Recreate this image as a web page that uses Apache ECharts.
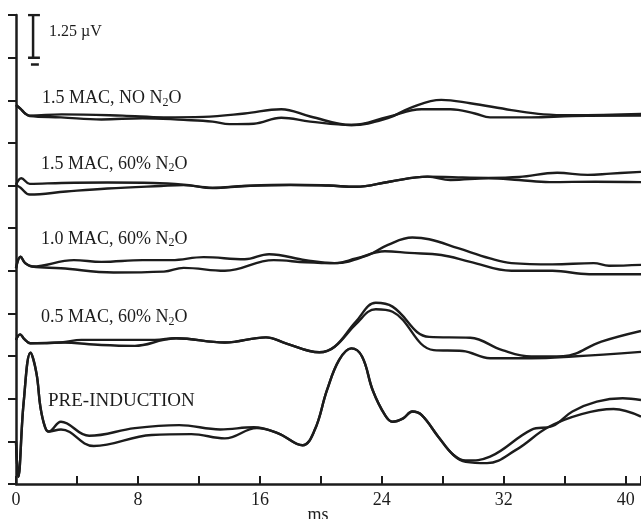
<!DOCTYPE html>
<html>
<head>
<meta charset="utf-8">
<script src="https://cdn.jsdelivr.net/npm/echarts@6/dist/echarts.min.js"></script>
<style>
html, body { margin: 0; padding: 0; background: #fff; }
#chart { width: 641px; height: 519px; }
</style>
</head>
<body>
<div id="chart"></div>
<script>
// each trace is [ms, offset], offset in scale units (1 unit = 1.25 µV)
var noN2O_a = [[0,8.89],[0.3,8.80],[0.6,8.69],[0.9,8.64],[3,8.67],[7,8.64],[9.7,8.60],[12.3,8.61],[15,8.69],[17.4,8.79],[19.3,8.62],[22,8.42],[24.4,8.58],[25.8,8.81],[27.9,9.01],[29.8,8.93],[32.5,8.77],[34.6,8.67],[36.5,8.65],[41,8.68]];
var noN2O_b = [[0,8.89],[0.3,8.80],[0.6,8.69],[0.9,8.63],[2.95,8.60],[5.6,8.55],[8.3,8.58],[11,8.54],[12.9,8.50],[14,8.44],[15.6,8.45],[17.4,8.59],[19.3,8.50],[22,8.42],[24.4,8.61],[26.6,8.79],[28.5,8.79],[30.1,8.69],[31.1,8.60],[33.8,8.60],[36.5,8.63],[41,8.64]];

var mac15_a = [[0,7.02],[0.35,7.17],[0.9,7.04],[3,7.06],[6,7.07],[9,7.06],[11,7.02],[12.9,6.95],[15,6.99],[18,7.01],[20.5,7.0],[22.3,6.97],[24.5,7.09],[27,7.21],[29,7.19],[31,7.18],[33,7.2],[35.5,7.3],[37.5,7.25],[39,7.28],[41,7.32]];
var mac15_b = [[0,7.02],[0.3,6.95],[0.9,6.79],[3.3,6.86],[6,6.93],[9.5,6.99],[11,7.01],[12.9,6.94],[15,6.99],[18,7.02],[20.5,7.0],[22.3,6.97],[24.5,7.09],[27,7.21],[28.5,7.13],[31,7.17],[33,7.13],[35,7.08],[38,7.09],[41,7.08]];

var mac10_a = [[0,5.06],[0.3,5.33],[0.6,5.18],[1.07,5.10],[3.8,5.25],[5.6,5.21],[8.3,5.25],[10.2,5.25],[12.3,5.32],[15,5.27],[16.6,5.39],[19,5.25],[20.9,5.18],[23.1,5.37],[24.4,5.61],[26,5.78],[27.1,5.74],[29,5.53],[31.1,5.29],[32.5,5.18],[35.2,5.15],[37.9,5.18],[38.9,5.12],[41,5.14]];
var mac10_b = [[0,5.06],[0.3,5.33],[0.6,5.18],[1.07,5.10],[2.95,5.06],[6.4,4.96],[9.7,4.98],[11,5.07],[13.7,5.0],[16.9,5.25],[19,5.2],[20.9,5.18],[22.3,5.29],[24.2,5.46],[25.8,5.42],[27.9,5.37],[29.8,5.21],[32.5,5.0],[35.2,5.0],[37.6,4.92],[41,4.92]];

var mac05_a = [[0,3.38],[0.27,3.51],[0.55,3.40],[0.94,3.30],[2.95,3.32],[4.3,3.38],[9.1,3.38],[10.5,3.42],[13.7,3.32],[16.4,3.44],[17.7,3.30],[19.9,3.09],[20.9,3.22],[22.3,3.81],[23.6,4.25],[24.7,4.16],[27.1,3.45],[29.8,3.43],[31.9,3.14],[33.8,2.99],[35.9,3.0],[38.4,3.34],[41,3.59]];
var mac05_b = [[0,3.38],[0.27,3.51],[0.55,3.40],[0.94,3.30],[2.95,3.32],[5.6,3.26],[7.8,3.24],[9.7,3.38],[10.5,3.42],[13.7,3.32],[16.4,3.44],[17.7,3.30],[19.9,3.09],[20.9,3.22],[22.3,3.75],[23.6,4.10],[24.7,4.04],[27.4,3.14],[29.3,3.12],[31.1,2.95],[33.8,2.95],[36.5,2.99],[41,3.10]];

var pre_a = [[0,1.0],[0.15,0.17],[0.5,1.9],[0.95,3.08],[1.34,2.6],[1.6,1.81],[1.9,1.34],[2.15,1.23],[2.95,1.46],[4.8,1.13],[7.8,1.31],[10.7,1.38],[13.4,1.28],[15.6,1.33],[17.2,1.19],[18.8,0.91],[19.6,1.27],[20.4,2.20],[21.2,2.91],[22.0,3.18],[22.7,2.99],[23.4,2.20],[24.2,1.62],[24.7,1.46],[25.4,1.54],[26.0,1.70],[26.6,1.62],[27.7,1.11],[28.7,0.68],[29.5,0.55],[31.1,0.64],[33.8,1.27],[35.2,1.36],[36.5,1.70],[38.1,1.93],[39.8,2.01],[41,1.97]];
var pre_b = [[0,1.0],[0.15,0.17],[0.5,1.9],[0.95,3.08],[1.34,2.6],[1.6,1.81],[1.9,1.34],[2.15,1.23],[2.95,1.28],[5.1,0.89],[8.9,1.15],[11.5,1.17],[13.7,1.07],[15.8,1.31],[17.2,1.19],[18.8,0.91],[19.6,1.27],[20.4,2.20],[21.2,2.91],[22.0,3.18],[22.7,2.99],[23.4,2.20],[24.2,1.62],[24.7,1.46],[25.4,1.54],[26.0,1.70],[26.6,1.62],[27.7,1.11],[28.7,0.68],[29.5,0.52],[30.9,0.49],[32.8,0.80],[34.9,1.33],[37.1,1.64],[39.2,1.76],[41,1.58]];

// 1.25 µV calibration bar (one scale unit tall)
var scaleBar = [[0.79,11],[1.57,11],[1.12,11],[1.12,10],[0.79,10],[1.57,10]];
var scaleDash = [[0.98,9.84],[1.5,9.84]];

var xLabels = [0, 8, 16, 24, 32, 40];
var traceNames = ['1.5 MAC, NO N2O', '1.5 MAC, 60% N2O', '1.0 MAC, 60% N2O', '0.5 MAC, 60% N2O', 'PRE-INDUCTION'];
var scaleText = '1.25 µV';

var ink = '#1c1c1c';
var serif = '"Liberation Serif", "Times New Roman", serif';

var chartDom = document.getElementById('chart');
var myChart = echarts.init(chartDom);

function trace(data) {
  return {
    type: 'line',
    data: data,
    smooth: 0.4,
    showSymbol: false,
    silent: true,
    lineStyle: { color: ink, width: 2.4 }
  };
}

// label positions: [left, middle, font size]
var labelPos = [[42, 98.5, 18], [41, 164, 18], [41, 239, 18], [41, 317.5, 18], [48, 401, 19]];

var graphics = labelPos.map(function (p, i) {
  return {
    type: 'text',
    x: p[0],
    y: p[1],
    style: {
      text: traceNames[i].replace('N2O', 'N{s|2}O'),
      font: p[2] + 'px ' + serif,
      fill: ink,
      lineHeight: 20,
      verticalAlign: 'middle',
      rich: {
        s: { fontSize: 12, fontFamily: serif, lineHeight: 12, verticalAlign: 'bottom', fill: ink }
      }
    }
  };
});
graphics.push({
  type: 'text',
  x: 49,
  y: 32,
  style: { text: scaleText, font: '16px ' + serif, fill: ink, verticalAlign: 'middle' }
});

var option = {
  animation: false,
  grid: { left: 16, right: 0, top: 15, bottom: 35, outerBoundsMode: 'none' },
  xAxis: {
    type: 'value',
    min: 0,
    max: 41,
    interval: 4,
    name: 'ms',
    nameLocation: 'middle',
    nameGap: 22,
    nameMoveOverlap: false,
    nameTextStyle: { fontFamily: serif, fontSize: 18, color: ink, padding: [0, 21, 0, 0] },
    axisLine: { lineStyle: { color: ink, width: 2.5 } },
    axisTick: { inside: true, length: 8, lineStyle: { color: ink, width: 2 } },
    axisLabel: {
      margin: 7,
      fontFamily: serif,
      fontSize: 18,
      color: ink,
      formatter: function (v) { return xLabels.indexOf(v) >= 0 ? String(v) : ''; }
    },
    splitLine: { show: false }
  },
  yAxis: {
    type: 'value',
    min: 0,
    max: 11,
    interval: 1,
    axisLine: { show: true, lineStyle: { color: ink, width: 2.5 } },
    axisTick: { show: true, inside: false, length: 8, lineStyle: { color: ink, width: 2 } },
    axisLabel: { show: false },
    splitLine: { show: false }
  },
  graphic: graphics,
  series: [
    trace(noN2O_a), trace(noN2O_b),
    trace(mac15_a), trace(mac15_b),
    trace(mac10_a), trace(mac10_b),
    trace(mac05_a), trace(mac05_b),
    trace(pre_a), trace(pre_b),
    { type: 'line', data: scaleBar, showSymbol: false, silent: true, lineStyle: { color: ink, width: 2.5 } },
    { type: 'line', data: scaleDash, showSymbol: false, silent: true, lineStyle: { color: ink, width: 2.5 } }
  ]
};

option && myChart.setOption(option);
</script>
</body>
</html>
